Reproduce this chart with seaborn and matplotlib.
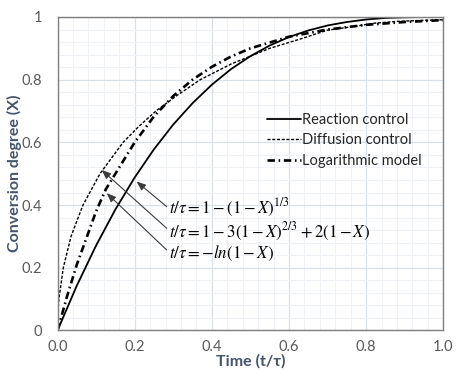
import numpy as np
import pandas as pd
import seaborn as sns
import matplotlib.pyplot as plt
from matplotlib.ticker import MultipleLocator

# values
t_reaction = [0, 0.05, 0.1, 0.15, 0.2, 0.25, 0.3, 0.35, 0.4, 0.45, 0.5,
              0.55, 0.6, 0.65, 0.7, 0.75, 0.8, 0.85, 0.9, 0.95, 1.0]
x_reaction = [0, 0.143, 0.271, 0.386, 0.488, 0.578, 0.657, 0.725, 0.784, 0.834, 0.875,
              0.909, 0.936, 0.957, 0.973, 0.984, 0.992, 0.997, 0.999, 1.0, 1.0]

t_diffusion = [0, 0.001, 0.0035, 0.015, 0.035, 0.066, 0.11, 0.17, 0.21, 0.255, 0.31,
               0.37, 0.45, 0.55, 0.63, 0.70, 0.77, 0.82, 0.88, 0.94, 1.0]
x_diffusion = [0, 0.055, 0.1, 0.2, 0.3, 0.4, 0.5, 0.6, 0.65, 0.7, 0.75,
               0.8, 0.85, 0.9, 0.93, 0.958, 0.97, 0.98, 0.986, 0.989, 0.991]

t_log = [0, 0.025, 0.05, 0.075, 0.1, 0.125, 0.15, 0.2, 0.25, 0.3, 0.35,
         0.4, 0.45, 0.5, 0.6, 0.7, 0.8, 0.9, 1.0]
x_log = [0, 0.11, 0.21, 0.295, 0.38, 0.45, 0.5, 0.6, 0.683, 0.748, 0.8,
         0.841, 0.874, 0.9, 0.937, 0.96, 0.975, 0.984, 0.99]

series_names = ['Reaction control', 'Diffusion control', 'Logarithmic model']
x_ticks = [0.0, 0.2, 0.4, 0.6, 0.8, 1.0]
x_tick_labels = ['0.0', '0.2', '0.4', '0.6', '0.8', '1.0']
y_ticks = [0, 0.2, 0.4, 0.6, 0.8, 1.0]
y_tick_labels = ['0', '0.2', '0.4', '0.6', '0.8', '1']

equations = [r'$t/\tau = 1 - (1 - X)^{1/3}$',
             r'$t/\tau = 1 - 3(1 - X)^{2/3} + 2(1 - X)$',
             r'$t/\tau = -ln(1 - X)$']

sns.set_style('white')
plt.rcParams['font.family'] = ['Lato', 'DejaVu Sans']
plt.rcParams['mathtext.fontset'] = 'stix'

fig = plt.figure(figsize=(4.59, 3.75), dpi=100)
ax = fig.add_axes([0.1253, 0.1187, 0.8405, 0.836])

sns.lineplot(x=t_reaction, y=x_reaction, ax=ax, color='black', lw=1.3,
             label=series_names[0])
sns.lineplot(x=t_diffusion, y=x_diffusion, ax=ax, color='black', lw=1.0,
             linestyle=(0, (2.2, 1.2)), label=series_names[1])
sns.lineplot(x=t_log, y=x_log, ax=ax, color='black', lw=1.9,
             linestyle=(0, (2.8, 1.4, 0.6, 1.4)), label=series_names[2])

ax.set_xlim(0, 1)
ax.set_ylim(0, 1)
ax.set_xticks(x_ticks)
ax.set_xticklabels(x_tick_labels)
ax.set_yticks(y_ticks)
ax.set_yticklabels(y_tick_labels)
ax.xaxis.set_minor_locator(MultipleLocator(0.04))
ax.yaxis.set_minor_locator(MultipleLocator(0.04))
ax.grid(which='major', color='#d8e0ea', lw=0.9)
ax.grid(which='minor', color='#eef2f7', lw=0.8)
ax.set_axisbelow(True)

for s in ax.spines.values():
    s.set_color('#7f7f7f')
    s.set_linewidth(1.0)
    s.set_visible(True)
ax.tick_params(axis='x', which='major', length=4, width=0.8, color='#7f7f7f',
               labelsize=10.5, labelcolor='#595959', pad=3)
ax.tick_params(axis='y', which='major', length=0, labelsize=10.5,
               labelcolor='#595959', pad=11)
ax.tick_params(which='minor', length=0)

ax.set_xlabel('Time (t/τ)', fontsize=11.5, fontweight='bold', color='#44546a', labelpad=0)
ax.set_ylabel('Conversion degree (X)', fontsize=11.5, fontweight='bold', color='#44546a',
              labelpad=-0.5)

# equation labels with arrows
text_y = [0.392, 0.315, 0.246]
heads = [(0.205, 0.475), (0.1145, 0.512), (0.1275, 0.438)]
tails = [(0.283, 0.395), (0.283, 0.326), (0.283, 0.257)]
for eq, ty, h, tl in zip(equations, text_y, heads, tails):
    ax.text(0.289, ty, eq, fontsize=12.2, ha='left', va='center', color='black')
    ax.annotate('', xy=h, xytext=tl,
                arrowprops=dict(arrowstyle='-|>,head_length=0.55,head_width=0.22',
                                color='#3a3a3a', lw=0.8, shrinkA=0, shrinkB=0))

ax.legend(loc='upper left', bbox_to_anchor=(0.543, 0.695), frameon=False,
          borderpad=0, borderaxespad=0, fontsize=10.5, handlelength=2.3,
          handletextpad=0.1, labelspacing=0.45)

fig.savefig('out.png', dpi=100)
